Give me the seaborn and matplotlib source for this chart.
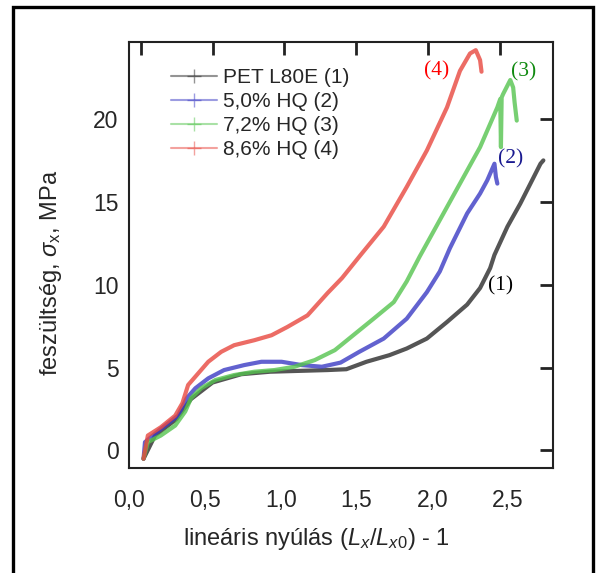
import seaborn as sns
import matplotlib.pyplot as plt
import pandas as pd
from matplotlib.lines import Line2D
from matplotlib.patches import Rectangle

sns.set_theme(style='white')
plt.rcParams['font.family'] = ['Liberation Sans', 'DejaVu Sans']
plt.rcParams['mathtext.fontset'] = 'custom'
plt.rcParams['mathtext.rm'] = 'Liberation Sans'
plt.rcParams['mathtext.it'] = 'Liberation Sans:italic'

# curves (strain, stress MPa)
labels = ['PET L80E (1)', '5,0% HQ (2)', '7,2% HQ (3)', '8,6% HQ (4)']
colors = ['#2a2a2a', '#3b3bc4', '#55c44f', '#e8473f']

x1 = [0.02, 0.10, 0.25, 0.35, 0.50, 0.70, 0.90, 1.10, 1.30, 1.43, 1.57, 1.73, 1.85,
      1.99, 2.13, 2.27, 2.36, 2.43, 2.46, 2.55, 2.64, 2.71, 2.78, 2.80]
y1 = [-0.5, 0.9, 1.9, 3.1, 4.1, 4.6, 4.75, 4.8, 4.85, 4.9, 5.35, 5.75, 6.15,
      6.75, 7.75, 8.8, 9.8, 11.0, 11.8, 13.5, 14.9, 16.1, 17.3, 17.5]

x2 = [0.02, 0.03, 0.14, 0.26, 0.32, 0.38, 0.47, 0.58, 0.72, 0.84, 0.98, 1.12, 1.26,
      1.39, 1.52, 1.69, 1.85, 1.99, 2.08, 2.15, 2.27, 2.36, 2.41, 2.46, 2.47, 2.48]
y2 = [-0.5, 0.5, 1.3, 2.1, 3.15, 3.75, 4.35, 4.85, 5.15, 5.35, 5.35, 5.15, 5.05,
      5.3, 5.95, 6.75, 7.95, 9.55, 10.8, 12.2, 14.3, 15.5, 16.3, 17.3, 16.5, 16.1]

x3 = [0.02, 0.05, 0.14, 0.24, 0.31, 0.35, 0.42, 0.52, 0.65, 0.79, 0.93, 1.07, 1.21,
      1.35, 1.40, 1.62, 1.76, 1.85, 1.94, 2.08, 2.22, 2.36, 2.48, 2.50, 2.505, 2.51,
      2.52, 2.57, 2.59, 2.60, 2.615]
y3 = [-0.5, 0.5, 0.9, 1.5, 2.35, 3.15, 3.75, 4.25, 4.55, 4.75, 4.85, 5.05, 5.45,
      6.05, 6.4, 7.95, 8.95, 10.2, 11.7, 13.9, 16.1, 18.3, 20.7, 21.2, 18.3, 21.3,
      21.5, 22.35, 21.9, 21.0, 19.9]

x4 = [0.02, 0.05, 0.14, 0.24, 0.29, 0.33, 0.38, 0.47, 0.56, 0.65, 0.79, 0.91, 1.02,
      1.16, 1.30, 1.40, 1.53, 1.69, 1.85, 1.99, 2.13, 2.22, 2.29, 2.33, 2.36, 2.37]
y4 = [-0.5, 0.9, 1.4, 2.1, 2.85, 3.95, 4.45, 5.35, 5.95, 6.35, 6.65, 6.95, 7.45,
      8.15, 9.5, 10.4, 11.8, 13.5, 15.9, 18.1, 20.7, 22.9, 23.95, 24.15, 23.55, 22.85]

# curve tags: (text, x, y, colour)
tags = [('(1)', 2.50, 9.95, 'black'), ('(2)', 2.57, 17.6, '#1a1a90'),
        ('(3)', 2.66, 22.85, '#108a10'), ('(4)', 2.06, 22.9, '#ff0000')]

xticks = [0.0, 0.5, 1.0, 1.5, 2.0, 2.5]
xticklabels = ['0,0', '0,5', '1,0', '1,5', '2,0', '2,5']
yticks = [0, 5, 10, 15, 20]

df = pd.concat([pd.DataFrame({'x': xs, 'y': ys, 'minta': lab})
                for xs, ys, lab in zip([x1, x2, x3, x4], [y1, y2, y3, y4], labels)])

fig = plt.figure(figsize=(5.97, 5.73), dpi=100)
ax = fig.add_axes([0.2161, 0.1838, 0.7102, 0.7434])
sns.lineplot(data=df, x='x', y='y', hue='minta', palette=colors, sort=False,
             estimator=None, lw=3, alpha=0.8, ax=ax, legend=False)

ax.set_xlim(-0.081, 2.867)
ax.set_ylim(-1.04, 24.66)
ax.set_xticks(xticks)
ax.set_yticks(yticks)
ax.set_yticklabels([str(t) for t in yticks])
ax.tick_params(direction='in', top=True, right=True, length=9.5, width=2,
               color='#222222', labelsize=16.5, pad=7.5, labelbottom=False)
for s in ax.spines.values():
    s.set_linewidth(1.5)
    s.set_color('#222222')

# tick labels sit slightly off the tick marks in the original
sec = ax.secondary_xaxis('bottom', functions=(lambda x: 0.0746 + 0.9495 * x,
                                              lambda v: (v - 0.0746) / 0.9495))
sec.set_xticks(xticks)
sec.set_xticklabels(xticklabels)
sec.tick_params(length=0, pad=15, labelsize=16.5)
for s in sec.spines.values():
    s.set_visible(False)

ax.set_xlabel(r'lineáris nyúlás $\mathit{(L_x/L_{x0})}$ - 1', fontsize=17)
ax.xaxis.set_label_coords(0.441, -0.136)
ax.set_ylabel(r'feszültség, $\sigma_\mathrm{x}$, MPa', fontsize=17)
ax.yaxis.set_label_coords(-0.153, 0.458)

for txt, tx, ty, c in tags:
    ax.text(tx, ty, txt, color=c, family='Liberation Serif', fontsize=15.5,
            ha='center', va='center')

handles = [Line2D([], [], color=c, marker='+', lw=1.5, ms=10, alpha=0.5) for c in colors]
ax.legend(handles, labels, loc='upper left', bbox_to_anchor=(0.099, 0.9386),
          frameon=False, borderpad=0, borderaxespad=0, fontsize=15,
          handlelength=2.2, handletextpad=0.3, labelspacing=0.25)

fig.add_artist(Rectangle((13 / 597, -0.02), (593 - 13) / 597, 1.02 - 6.7 / 573,
                         transform=fig.transFigure, fill=False, lw=2.4,
                         ec='black', clip_on=False))

fig.savefig('out.png', dpi=100)
